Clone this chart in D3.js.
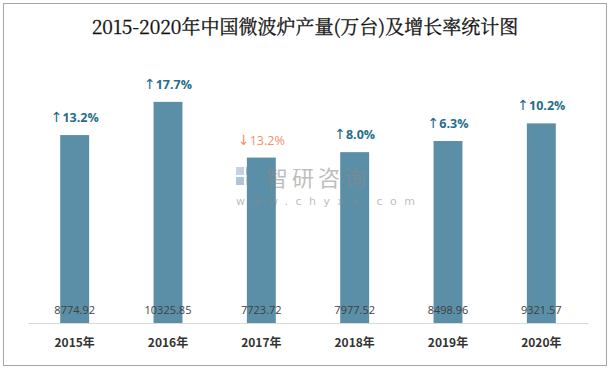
<!DOCTYPE html>
<html><head><meta charset="utf-8">
<script src="https://cdn.jsdelivr.net/npm/d3@7"></script>
<style>body{margin:0;background:#fff}svg{display:block}</style>
</head><body>
<svg id="c" width="611" height="369"></svg>
<script>
const years = ["2015年","2016年","2017年","2018年","2019年","2020年"];
const output = [8774.92,10325.85,7723.72,7977.52,8498.96,9321.57];
const growth = [13.2,17.7,-13.2,8.0,6.3,10.2];
const growthLabels = ["13.2%","17.7%","13.2%","8.0%","6.3%","10.2%"];

const svg = d3.select("#c");
svg.append("rect").attr("x",3.5).attr("y",3.5).attr("width",603).attr("height",362)
  .attr("fill","#fff").attr("stroke","#a6a6a6").attr("stroke-width",1);

svg.append("text").attr("x",305).attr("y",34).attr("text-anchor","middle")
  .attr("font-family","'Noto Serif CJK SC','Liberation Serif','Noto Sans CJK SC',serif").attr("font-size",19)
  .attr("fill","#111").attr("stroke","#111").attr("stroke-width",0.3)
  .text("2015-2020年中国微波炉产量(万台)及增长率统计图");

const x = d3.scaleBand().domain(years).range([28,588]).paddingInner(0.69).paddingOuter(0.345);
const y = d3.scaleLinear().domain([0,12000]).range([323,66]);

// watermark logo (behind)
const wm = svg.append("g").attr("opacity",0.6);
wm.append("rect").attr("x",236).attr("y",167).attr("width",8).attr("height",8).attr("fill","#9fb5cf");
wm.append("rect").attr("x",246).attr("y",167).attr("width",8).attr("height",8).attr("fill","#7b9cc4");
wm.append("rect").attr("x",236).attr("y",177).attr("width",8).attr("height",8).attr("fill","#7b9cc4");
wm.append("rect").attr("x",246).attr("y",177).attr("width",8).attr("height",8).attr("fill","#b9c9dc");

// bars
svg.selectAll("rect.bar").data(output).enter().append("rect").attr("class","bar")
  .attr("x",(d,i)=>x(years[i])).attr("width",x.bandwidth())
  .attr("y",d=>y(d)).attr("height",d=>y(0)-y(d))
  .attr("fill","#5b8fa7");

// axis
const ax = d3.axisBottom(x).tickSize(0).tickPadding(15);
const g = svg.append("g").attr("transform","translate(0,323)").call(ax);
g.select(".domain").attr("stroke","#d9d9d9").attr("stroke-width",1);
g.selectAll("text").attr("font-family","'Noto Sans CJK SC',sans-serif").attr("font-weight","bold")
  .attr("font-size",12).attr("fill","#333");

// value labels
svg.selectAll("text.val").data(output).enter().append("text").attr("class","val")
  .attr("x",(d,i)=>x(years[i])+x.bandwidth()/2).attr("y",314).attr("text-anchor","middle")
  .attr("font-family","'Open Sans','Noto Sans',sans-serif").attr("font-size",11).attr("fill","#404040")
  .text(d=>d.toFixed(2));

// growth labels
const gr = svg.selectAll("text.gr").data(growth).enter().append("text").attr("class","gr")
  .attr("x",(d,i)=>x(years[i])+x.bandwidth()/2).attr("y",(d,i)=>y(output[i])-13)
  .attr("text-anchor","middle")
  .attr("font-family","'Open Sans','Noto Sans',sans-serif").attr("font-size",12.5)
  .attr("font-weight",d=>d>=0?"bold":"normal")
  .attr("fill",d=>d>=0?"#1f6e8c":"#f2916e");
gr.append("tspan").attr("font-family","'DejaVu Sans',sans-serif").attr("font-size",14)
  .attr("font-weight","normal").text(d=>d>=0?"↑":"↓");
gr.append("tspan").text((d,i)=>growthLabels[i]);

// watermark text (over bars)
const wt = svg.append("g").attr("opacity",0.55);
wt.append("text").attr("x",266).attr("y",186).attr("font-family","'Noto Sans CJK SC',sans-serif")
  .attr("font-size",22).attr("fill","#8a8a8a").attr("letter-spacing",4).text("智研咨询");
wt.append("text").attr("x",236).attr("y",205).attr("font-family","'DejaVu Sans',sans-serif")
  .attr("font-size",11).attr("fill","#8a8a8a").attr("letter-spacing",7.5).text("www.chyxx.com");
</script>
</body></html>
